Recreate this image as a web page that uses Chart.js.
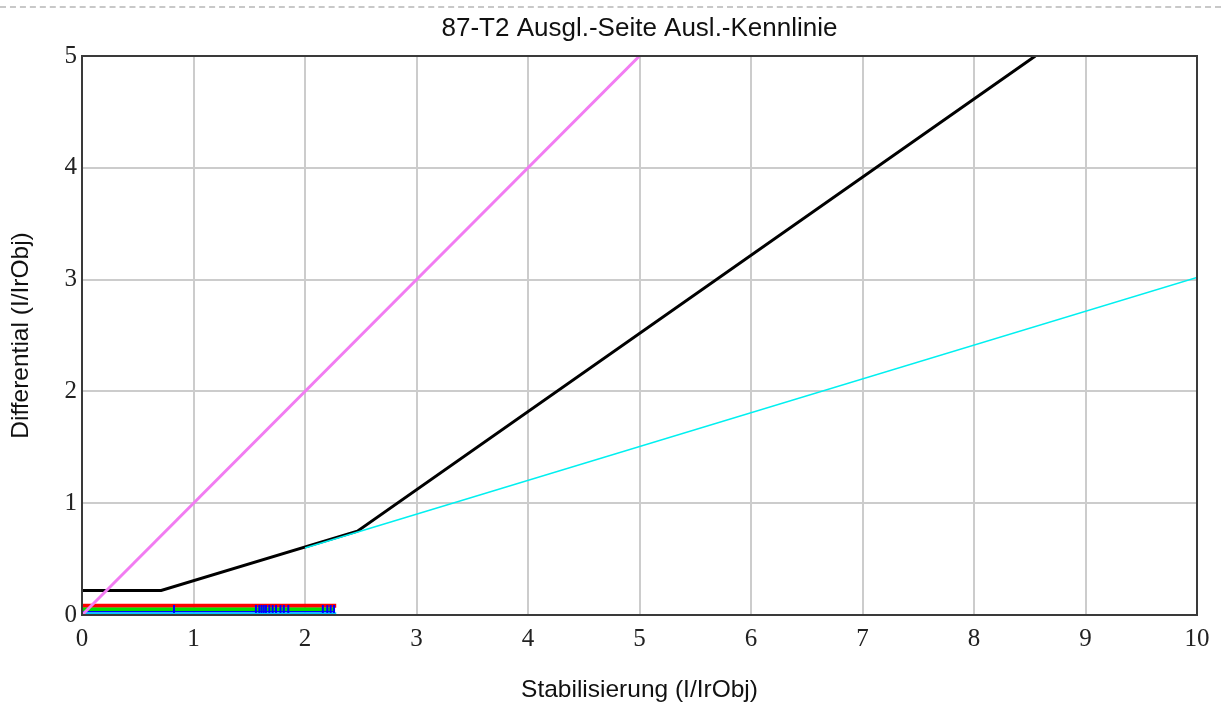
<!DOCTYPE html>
<html>
<head>
<meta charset="utf-8">
<script src="https://cdn.jsdelivr.net/npm/chart.js@4.4.1/dist/chart.umd.min.js"></script>
<style>
  html, body { margin: 0; padding: 0; background: #ffffff; }
  #wrap { position: relative; width: 1221px; height: 706px; }
  #dash { position: absolute; left: 0; top: 6px; width: 1221px; border-top: 2px dashed #c8c8c8; }
  canvas { position: absolute; left: 0; top: 0; }
</style>
</head>
<body>
<div id="wrap">
  <canvas id="c" width="1221" height="706"></canvas>
  <div id="dash"></div>
</div>
<script>
// ---- data ----
const chartTitle = "87-T2 Ausgl.-Seite Ausl.-Kennlinie";
const xTitle = "Stabilisierung (I/IrObj)";
const yTitle = "Differential (I/IrObj)";
const xTicks = [0, 1, 2, 3, 4, 5, 6, 7, 8, 9, 10];
const yTicks = [0, 1, 2, 3, 4, 5];

// tripping characteristic (black)
const charX = [0, 0.71, 2.47, 8.55];
const charY = [0.22, 0.22, 0.75, 5.0];
// slope line (cyan)
const slopeX = [2.0, 10.0];
const slopeY = [0.6, 3.02];
// Idiff = Istab line (magenta)
const diagX = [0, 5.0];
const diagY = [0, 5.0];
// measured bands near zero
const redX = [0, 2.28];   const redY = [0.082, 0.082];
const greenX = [0, 2.27]; const greenY = [0.051, 0.051];
const blueX = [0, 2.27];  const blueY = [0.030, 0.030];
const cyanX = [0, 2.28];  const cyanY = [0.016, 0.016];
// blue measurement marks
const markX = [0.825, 1.56, 1.59, 1.61, 1.63, 1.65, 1.68, 1.71, 1.74, 1.78, 1.81, 1.85, 2.16, 2.20, 2.23, 2.26];
const markY = markX.map(() => 0.054);

const pts = (xs, ys) => xs.map((x, i) => ({ x: x, y: ys[i] }));

function lineDs(xs, ys, color, width) {
  return { data: pts(xs, ys), showLine: true, borderColor: color, backgroundColor: color,
           borderWidth: width, pointRadius: 0, tension: 0, borderCapStyle: 'butt' };
}

const frame = {
  id: 'frame',
  afterDraw(chart) {
    const { ctx, chartArea: a } = chart;
    ctx.save();
    ctx.strokeStyle = '#3a3a3a';
    ctx.lineWidth = 2;
    ctx.strokeRect(a.left, a.top, a.right - a.left, a.bottom - a.top);
    ctx.restore();
  }
};

// Chart.js paints dataset 0 last (on top), so the list runs top-most first.
new Chart(document.getElementById('c'), {
  type: 'scatter',
  data: {
    datasets: [
      { data: pts(markX, markY), showLine: false, pointStyle: 'line', rotation: 90,
        pointRadius: 4, borderColor: '#0000ff', borderWidth: 2, backgroundColor: '#0000ff' },
      lineDs(diagX, diagY, '#f27cf2', 3),
      lineDs(slopeX, slopeY, '#00f0f0', 1.5),
      lineDs(charX, charY, '#000000', 3),
      lineDs(cyanX, cyanY, '#00c8ff', 2),
      lineDs(blueX, blueY, '#0000ff', 1.5),
      lineDs(greenX, greenY, '#00e000', 3.5),
      lineDs(redX, redY, '#ff0000', 4)
    ]
  },
  options: {
    responsive: false,
    animation: false,
    layout: { padding: { top: 2, right: 24, bottom: 0, left: 0 } },
    plugins: {
      legend: { display: false },
      tooltip: { enabled: false },
      title: {
        display: true, text: chartTitle, color: '#111', fullSize: false,
        font: { family: 'Liberation Sans', size: 26, weight: 'normal', lineHeight: 1.05 },
        padding: { top: 13, bottom: 13.7 }
      }
    },
    scales: {
      x: {
        type: 'linear', min: 0, max: 10,
        afterFit(s) { s.height = 91; },
        afterBuildTicks(s) { s.ticks = xTicks.map(v => ({ value: v })); },
        ticks: { color: '#222', font: { family: 'Liberation Serif', size: 25 }, padding: 9, maxRotation: 0 },
        grid: { color: '#cccccc', lineWidth: 2, drawTicks: false },
        border: { display: false },
        title: { display: true, text: xTitle, color: '#111',
                 font: { family: 'Liberation Sans', size: 24.5 }, padding: { top: 0, bottom: 1 } }
      },
      y: {
        type: 'linear', min: 0, max: 5,
        afterFit(s) { s.width = 82; },
        afterBuildTicks(s) { s.ticks = yTicks.map(v => ({ value: v })); },
        ticks: { color: '#222', font: { family: 'Liberation Serif', size: 25 }, padding: 5 },
        grid: { color: '#cccccc', lineWidth: 2, drawTicks: false },
        border: { display: false },
        title: { display: true, text: yTitle, color: '#111',
                 font: { family: 'Liberation Sans', size: 24.5 }, padding: { top: 7, bottom: 0 } }
      }
    }
  },
  plugins: [frame]
});
</script>
</body>
</html>
